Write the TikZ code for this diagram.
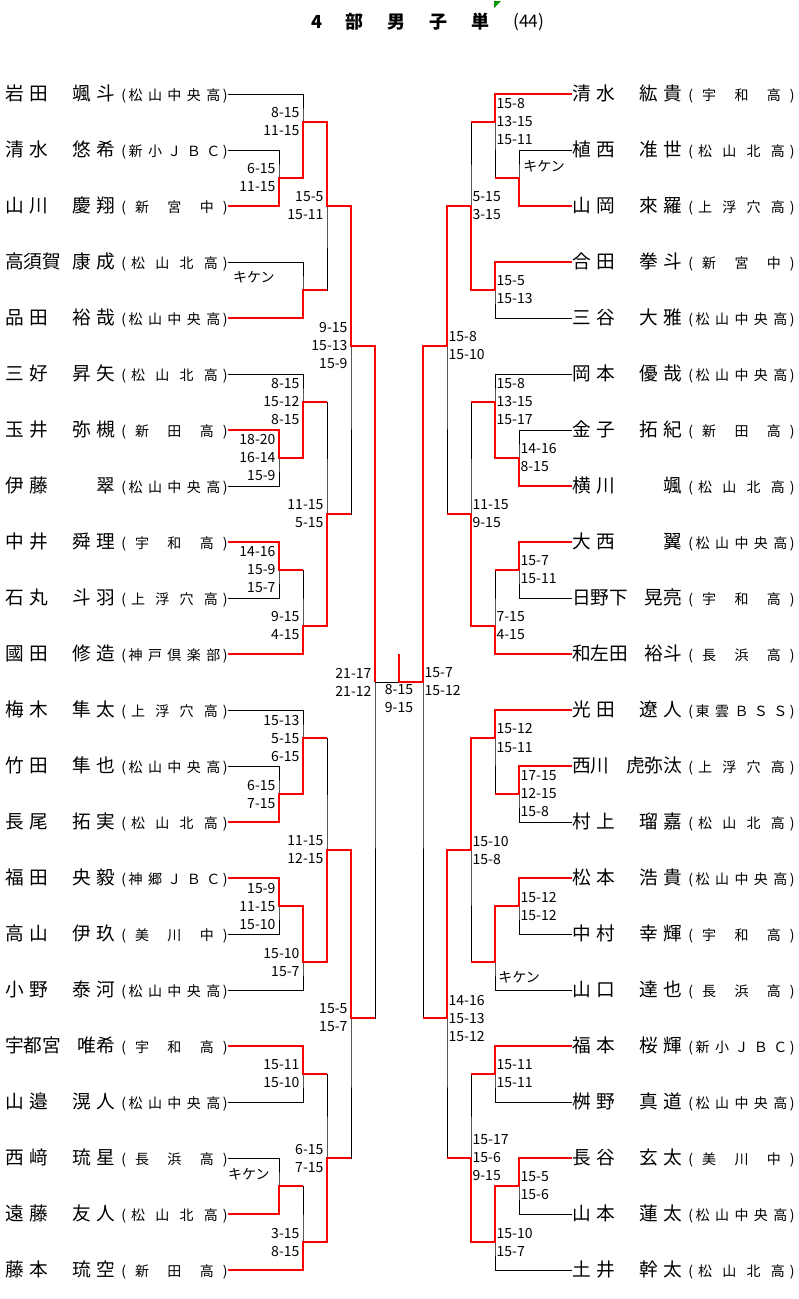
\documentclass[tikz,border=0pt]{standalone}
\usepackage{fontspec}
\setmainfont{Noto Sans CJK JP}
\usepackage{tikz}
\usetikzlibrary{positioning}

\newdimen\px \px=0.75pt
\definecolor{cellgreen}{RGB}{0,150,0}
\newcommand\namefont{\fontsize{14}{16}\selectfont}
\newcommand\schoolfont{\fontsize{10.5}{12}\selectfont}
\newcommand\scorefont{\fontsize{10.5}{13.5}\selectfont}
% spread the characters of a word over its box
\def\spr#1#2\endsp{#1\ifx\relax#2\relax\else\hskip0pt plus 1fill\relax\spr#2\endsp\fi}
\newcommand\pn[3]{\hbox to 110\px{\hbox to 43\px{\spr#1\endsp\hskip0pt plus 1fil minus 1fil}\hfil%
  \hbox to 43\px{\hskip0pt plus 1fil minus 1fil\relax\spr#2\endsp}}\hskip6\px%
  {\schoolfont(\hbox to 97\px{\hskip0pt plus .5fill\relax\spr#3\endsp\hskip0pt plus .5fill})}\hskip9\px}

\tikzset{
    bracket/.style={draw=black, line width=0.75pt},
    winner/.style={draw=red, line width=1.5pt},
    player/.style={inner sep=0pt, font=\namefont},
    scoreL/.style={inner sep=0pt, align=right, font=\scorefont},
    scoreR/.style={inner sep=0pt, align=left, font=\scorefont},
    scoreC/.style={inner sep=0pt, align=center, font=\scorefont},
    headline/.style={inner sep=0pt, font=\fontsize{13.5}{16}\selectfont\bfseries},
    tally/.style={inner sep=0pt, font=\fontsize{13}{15}\selectfont},
}

\begin{document}
\begin{tikzpicture}[x=0.75pt, y=-0.75pt]
	\path[use as bounding box, fill=white] (0,0) rectangle (799,1299);
	\node[headline, anchor=west] (title) at (311,22) {\hbox to 178\px{\spr4部男子単\endsp}};
	\node[tally, anchor=west] (entries) at (513,22) {(44)};
	\fill[cellgreen] (494,1) -- (501,1) -- (494,8) -- cycle;
%
	\node[player, anchor=east] (L1) at (228,94) {\pn{岩田}{颯斗}{松山中央高}};
	\node[player, anchor=east] (L2) at (228,150) {\pn{清水}{悠希}{新小ＪＢＣ}};
	\node[player, anchor=east] (L3) at (228,206) {\pn{山川}{慶翔}{新宮中}};
	\node[player, anchor=east] (L4) at (228,262) {\pn{高須賀}{康成}{松山北高}};
	\node[player, anchor=east] (L5) at (228,318) {\pn{品田}{裕哉}{松山中央高}};
	\node[player, anchor=east] (L6) at (228,374) {\pn{三好}{昇矢}{松山北高}};
	\node[player, anchor=east] (L7) at (228,430) {\pn{玉井}{弥槻}{新田高}};
	\node[player, anchor=east] (L8) at (228,486) {\pn{伊藤}{翠}{松山中央高}};
	\node[player, anchor=east] (L9) at (228,542) {\pn{中井}{舜理}{宇和高}};
	\node[player, anchor=east] (L10) at (228,598) {\pn{石丸}{斗羽}{上浮穴高}};
	\node[player, anchor=east] (L11) at (228,654) {\pn{國田}{修造}{神戸倶楽部}};
	\node[player, anchor=east] (L12) at (228,710) {\pn{梅木}{隼太}{上浮穴高}};
	\node[player, anchor=east] (L13) at (228,766) {\pn{竹田}{隼也}{松山中央高}};
	\node[player, anchor=east] (L14) at (228,822) {\pn{長尾}{拓実}{松山北高}};
	\node[player, anchor=east] (L15) at (228,878) {\pn{福田}{央毅}{神郷ＪＢＣ}};
	\node[player, anchor=east] (L16) at (228,934) {\pn{高山}{伊玖}{美川中}};
	\node[player, anchor=east] (L17) at (228,990) {\pn{小野}{泰河}{松山中央高}};
	\node[player, anchor=east] (L18) at (228,1046) {\pn{宇都宮}{{唯希}}{宇和高}};
	\node[player, anchor=east] (L19) at (228,1102) {\pn{山邉}{滉人}{松山中央高}};
	\node[player, anchor=east] (L20) at (228,1158) {\pn{西﨑}{琉星}{長浜高}};
	\node[player, anchor=east] (L21) at (228,1214) {\pn{遠藤}{友人}{松山北高}};
	\node[player, anchor=east] (L22) at (228,1270) {\pn{藤本}{琉空}{新田高}};
%
	\node[player, anchor=west] (R1) at (572,94) {\pn{清水}{紘貴}{宇和高}};
	\node[player, anchor=west] (R2) at (572,150) {\pn{植西}{准世}{松山北高}};
	\node[player, anchor=west] (R3) at (572,206) {\pn{山岡}{來羅}{上浮穴高}};
	\node[player, anchor=west] (R4) at (572,262) {\pn{合田}{拳斗}{新宮中}};
	\node[player, anchor=west] (R5) at (572,318) {\pn{三谷}{大雅}{松山中央高}};
	\node[player, anchor=west] (R6) at (572,374) {\pn{岡本}{優哉}{松山中央高}};
	\node[player, anchor=west] (R7) at (572,430) {\pn{金子}{拓紀}{新田高}};
	\node[player, anchor=west] (R8) at (572,486) {\pn{横川}{颯}{松山北高}};
	\node[player, anchor=west] (R9) at (572,542) {\pn{大西}{翼}{松山中央高}};
	\node[player, anchor=west] (R10) at (572,598) {\pn{日野下}{{晃亮}}{宇和高}};
	\node[player, anchor=west] (R11) at (572,654) {\pn{和左田}{{裕斗}}{長浜高}};
	\node[player, anchor=west] (R12) at (572,710) {\pn{光田}{遼人}{東雲ＢＳＳ}};
	\node[player, anchor=west] (R13) at (572,766) {\pn{{西川}}{虎弥汰}{上浮穴高}};
	\node[player, anchor=west] (R14) at (572,822) {\pn{村上}{瑠嘉}{松山北高}};
	\node[player, anchor=west] (R15) at (572,878) {\pn{松本}{浩貴}{松山中央高}};
	\node[player, anchor=west] (R16) at (572,934) {\pn{中村}{幸輝}{宇和高}};
	\node[player, anchor=west] (R17) at (572,990) {\pn{山口}{達也}{長浜高}};
	\node[player, anchor=west] (R18) at (572,1046) {\pn{福本}{桜輝}{新小ＪＢＣ}};
	\node[player, anchor=west] (R19) at (572,1102) {\pn{桝野}{真道}{松山中央高}};
	\node[player, anchor=west] (R20) at (572,1158) {\pn{長谷}{玄太}{美川中}};
	\node[player, anchor=west] (R21) at (572,1214) {\pn{山本}{蓮太}{松山中央高}};
	\node[player, anchor=west] (R22) at (572,1270) {\pn{土井}{幹太}{松山北高}};
%
	\coordinate (a1) at (279,178);
	\coordinate (a2) at (303,122);
	\coordinate (b1) at (303,290);
	\coordinate (ab) at (327,206);
	\coordinate (c1) at (279,458);
	\coordinate (c2) at (303,402);
	\coordinate (d1) at (279,570);
	\coordinate (d2) at (303,626);
	\coordinate (cd) at (327,514);
	\coordinate (q1) at (351,346);
	\coordinate (e1) at (279,794);
	\coordinate (e2) at (303,738);
	\coordinate (f1) at (279,906);
	\coordinate (f2) at (303,962);
	\coordinate (ef) at (327,850);
	\coordinate (g1) at (303,1074);
	\coordinate (h1) at (279,1186);
	\coordinate (h2) at (303,1242);
	\coordinate (gh) at (327,1158);
	\coordinate (q2) at (351,1018);
	\coordinate (semiL) at (375,682);
	\coordinate (fin) at (399,682);
	\coordinate (champ) at (399,654);
	\coordinate (semiR) at (423,682);
	\coordinate (ra1) at (519,178);
	\coordinate (ra2) at (495,122);
	\coordinate (rb1) at (495,290);
	\coordinate (rab) at (471,206);
	\coordinate (rc1) at (519,458);
	\coordinate (rc2) at (495,402);
	\coordinate (rd1) at (519,570);
	\coordinate (rd2) at (495,626);
	\coordinate (rcd) at (471,514);
	\coordinate (rq1) at (447,346);
	\coordinate (re1) at (519,794);
	\coordinate (re2) at (495,738);
	\coordinate (rf1) at (519,906);
	\coordinate (rf2) at (495,962);
	\coordinate (ref) at (471,850);
	\coordinate (rg1) at (495,1074);
	\coordinate (rh1) at (519,1186);
	\coordinate (rh2) at (495,1242);
	\coordinate (rgh) at (471,1158);
	\coordinate (rq2) at (447,1018);
%
	\draw[bracket] (L2.east) -| (a1) |- (L3.east);
	\draw[bracket] (L1.east) -| (a2) |- (a1);
	\draw[bracket] (L4.east) -| (b1) |- (L5.east);
	\draw[bracket] (a2) -| (ab) |- (b1);
	\draw[bracket] (L7.east) -| (c1) |- (L8.east);
	\draw[bracket] (L6.east) -| (c2) |- (c1);
	\draw[bracket] (L9.east) -| (d1) |- (L10.east);
	\draw[bracket] (d1) -| (d2) |- (L11.east);
	\draw[bracket] (c2) -| (cd) |- (d2);
	\draw[bracket] (ab) -| (q1) |- (cd);
	\draw[bracket] (L13.east) -| (e1) |- (L14.east);
	\draw[bracket] (L12.east) -| (e2) |- (e1);
	\draw[bracket] (L15.east) -| (f1) |- (L16.east);
	\draw[bracket] (f1) -| (f2) |- (L17.east);
	\draw[bracket] (e2) -| (ef) |- (f2);
	\draw[bracket] (L18.east) -| (g1) |- (L19.east);
	\draw[bracket] (L20.east) -| (h1) |- (L21.east);
	\draw[bracket] (h1) -| (h2) |- (L22.east);
	\draw[bracket] (g1) -| (gh) |- (h2);
	\draw[bracket] (ef) -| (q2) |- (gh);
	\draw[bracket] (q1) -| (semiL) |- (q2);
	\draw[bracket] (semiL) -- (semiR);
	\draw[bracket] (R2.west) -| (ra1) |- (R3.west);
	\draw[bracket] (R1.west) -| (ra2) |- (ra1);
	\draw[bracket] (R4.west) -| (rb1) |- (R5.west);
	\draw[bracket] (ra2) -| (rab) |- (rb1);
	\draw[bracket] (R7.west) -| (rc1) |- (R8.west);
	\draw[bracket] (R6.west) -| (rc2) |- (rc1);
	\draw[bracket] (R9.west) -| (rd1) |- (R10.west);
	\draw[bracket] (rd1) -| (rd2) |- (R11.west);
	\draw[bracket] (rc2) -| (rcd) |- (rd2);
	\draw[bracket] (rab) -| (rq1) |- (rcd);
	\draw[bracket] (R13.west) -| (re1) |- (R14.west);
	\draw[bracket] (R12.west) -| (re2) |- (re1);
	\draw[bracket] (R15.west) -| (rf1) |- (R16.west);
	\draw[bracket] (rf1) -| (rf2) |- (R17.west);
	\draw[bracket] (re2) -| (ref) |- (rf2);
	\draw[bracket] (R18.west) -| (rg1) |- (R19.west);
	\draw[bracket] (R20.west) -| (rh1) |- (R21.west);
	\draw[bracket] (rh1) -| (rh2) |- (R22.west);
	\draw[bracket] (rg1) -| (rgh) |- (rh2);
	\draw[bracket] (ref) -| (rq2) |- (rgh);
	\draw[bracket] (rq1) -| (semiR) |- (rq2);
%
	\draw[winner] (L3.east) -| (a1) -| (a2) -| (ab) -| (q1) -| (semiL);
	\draw[winner] (L5.east) -| (b1) -- (b1 -| ab);
	\draw[winner] (L7.east) -| (c1) -| (c2) -- (c2 -| cd);
	\draw[winner] (L9.east) -| (d1) -- (d1 -| d2);
	\draw[winner] (L11.east) -| (d2) -| (cd) -- (cd -| q1);
	\draw[winner] (L14.east) -| (e1) -| (e2) -- (e2 -| ef);
	\draw[winner] (L15.east) -| (f1) -| (f2) -| (ef) -| (q2) -- (q2 -| semiL);
	\draw[winner] (L18.east) -| (g1) -- (g1 -| gh);
	\draw[winner] (L21.east) -| (h1) -- (h1 -| h2);
	\draw[winner] (L22.east) -| (h2) -| (gh) -- (gh -| q2);
	\draw[winner] (R1.west) -| (ra2) -- (ra2 -| rab);
	\draw[winner] (R3.west) -| (ra1) -- (ra1 -| ra2);
	\draw[winner] (R4.west) -| (rb1) -| (rab) -| (rq1) -| (semiR) -- (fin) -- (champ);
	\draw[winner] (R8.west) -| (rc1) -| (rc2) -- (rc2 -| rcd);
	\draw[winner] (R9.west) -| (rd1) -- (rd1 -| rd2);
	\draw[winner] (R11.west) -| (rd2) -| (rcd) -- (rcd -| rq1);
	\draw[winner] (R12.west) -| (re2) -| (ref) -| (rq2) -- (rq2 -| semiR);
	\draw[winner] (R13.west) -| (re1) -- (re1 -| re2);
	\draw[winner] (R15.west) -| (rf1) -| (rf2) -- (rf2 -| ref);
	\draw[winner] (R18.west) -| (rg1) -- (rg1 -| rgh);
	\draw[winner] (R20.west) -| (rh1) -| (rh2) -| (rgh) -- (rgh -| rq2);
%
	\node[scoreL, left=2.5pt of a1] (ta1) {6-15\\11-15};
	\node[scoreL, left=2.5pt of a2] (ta2) {8-15\\11-15};
	\node[scoreL, left=21pt of b1, yshift=9.75pt] (tb1) {キケン};
	\node[scoreL, left=2.5pt of ab] (tab) {15-5\\15-11};
	\node[scoreL, left=2.5pt of c1] (tc1) {18-20\\16-14\\15-9};
	\node[scoreL, left=2.5pt of c2] (tc2) {8-15\\15-12\\8-15};
	\node[scoreL, left=2.5pt of d1] (td1) {14-16\\15-9\\15-7};
	\node[scoreL, left=2.5pt of d2] (td2) {9-15\\4-15};
	\node[scoreL, left=2.5pt of cd] (tcd) {11-15\\5-15};
	\node[scoreL, left=2.5pt of q1] (tq1) {9-15\\15-13\\15-9};
	\node[scoreL, left=2.5pt of e1] (te1) {6-15\\7-15};
	\node[scoreL, left=2.5pt of e2] (te2) {15-13\\5-15\\6-15};
	\node[scoreL, left=2.5pt of f1] (tf1) {15-9\\11-15\\15-10};
	\node[scoreL, left=2.5pt of f2] (tf2) {15-10\\15-7};
	\node[scoreL, left=2.5pt of ef] (tef) {11-15\\12-15};
	\node[scoreL, left=2.5pt of g1] (tg1) {15-11\\15-10};
	\node[scoreL, left=6.75pt of h1, yshift=9pt] (th1) {キケン};
	\node[scoreL, left=2.5pt of h2] (th2) {3-15\\8-15};
	\node[scoreL, left=2.5pt of gh] (tgh) {6-15\\7-15};
	\node[scoreL, left=2.5pt of q2] (tq2) {15-5\\15-7};
	\node[scoreL, left=2.5pt of semiL] (tsemiL) {21-17\\21-12};
	\node[scoreC, below=1.5pt of fin] (tfin) {8-15\\9-15};
	\node[scoreR, right=1pt of semiR] (tsemiR) {15-7\\15-12};
	\node[scoreR, right=3pt of ra1, yshift=9pt] (tra1) {キケン};
	\node[scoreR, right=1pt of ra2] (tra2) {15-8\\13-15\\15-11};
	\node[scoreR, right=1pt of rb1] (trb1) {15-5\\15-13};
	\node[scoreR, right=1pt of rab] (trab) {5-15\\3-15};
	\node[scoreR, right=1pt of rc1] (trc1) {14-16\\8-15};
	\node[scoreR, right=1pt of rc2] (trc2) {15-8\\13-15\\15-17};
	\node[scoreR, right=1pt of rd1] (trd1) {15-7\\15-11};
	\node[scoreR, right=1pt of rd2] (trd2) {7-15\\4-15};
	\node[scoreR, right=1pt of rcd] (trcd) {11-15\\9-15};
	\node[scoreR, right=1pt of rq1] (trq1) {15-8\\15-10};
	\node[scoreR, right=1pt of re1] (tre1) {17-15\\12-15\\15-8};
	\node[scoreR, right=1pt of re2] (tre2) {15-12\\15-11};
	\node[scoreR, right=1pt of rf1] (trf1) {15-12\\15-12};
	\node[scoreR, right=2.25pt of rf2, yshift=-11.25pt] (trf2) {キケン};
	\node[scoreR, right=1pt of ref] (tref) {15-10\\15-8};
	\node[scoreR, right=1pt of rg1] (trg1) {15-11\\15-11};
	\node[scoreR, right=1pt of rh1] (trh1) {15-5\\15-6};
	\node[scoreR, right=1pt of rh2] (trh2) {15-10\\15-7};
	\node[scoreR, right=1pt of rgh] (trgh) {15-17\\15-6\\9-15};
	\node[scoreR, right=1pt of rq2] (trq2) {14-16\\15-13\\15-12};
\end{tikzpicture}
\end{document}
